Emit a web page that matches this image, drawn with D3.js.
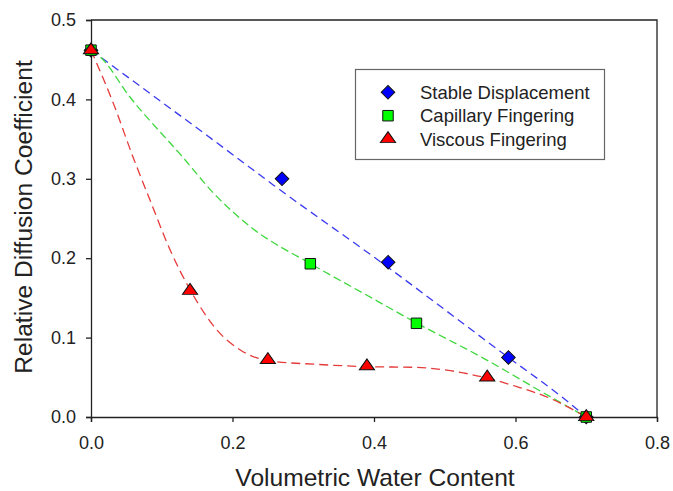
<!DOCTYPE html>
<html><head><meta charset="utf-8">
<script src="https://cdn.jsdelivr.net/npm/d3@7/dist/d3.min.js"></script>
<style>body{margin:0;background:#fff}svg{display:block}text{font-family:Arial,"Liberation Sans",sans-serif}</style>
</head><body><svg id="c" width="673" height="491"></svg>
<script>
// Data
const seriesNames = ["Stable Displacement", "Capillary Fingering", "Viscous Fingering"];
const stableX = [0, 0.27, 0.42, 0.59, 0.70];
const stableY = [0.462, 0.300, 0.195, 0.075, 0.0];
const capX = [0, 0.31, 0.46, 0.70];
const capY = [0.462, 0.193, 0.118, 0.0];
const viscX = [0, 0.14, 0.25, 0.39, 0.56, 0.70];
const viscY = [0.462, 0.159, 0.072, 0.064, 0.050, 0.0];
// fitted curves
const stableFitX = [0, 0.192, 0.258, 0.409, 0.59, 0.668, 0.70];
const stableFitY = [0.462, 0.336, 0.292, 0.1956, 0.075, 0.0235, 0.0];
const capFitX = [0, 0.0127, 0.055, 0.126, 0.178, 0.225, 0.311, 0.385, 0.461, 0.555, 0.649, 0.70];
const capFitY = [0.462, 0.4538, 0.403, 0.331, 0.2775, 0.2397, 0.1927, 0.1558, 0.118, 0.0739, 0.0256, 0.0];
const viscFitX = [0, 0.0316, 0.06, 0.0835, 0.112, 0.1405, 0.178, 0.211, 0.251, 0.319, 0.3905, 0.461, 0.508, 0.561, 0.602, 0.649, 0.70];
const viscFitY = [0.462, 0.395, 0.326, 0.273, 0.21, 0.1596, 0.1096, 0.0844, 0.0709, 0.0663, 0.0634, 0.0625, 0.0583, 0.0487, 0.0382, 0.0235, 0.0];
const xTicks = [0, 0.2, 0.4, 0.6, 0.8];
const yTicks = [0, 0.1, 0.2, 0.3, 0.4, 0.5];
const xTitle = "Volumetric Water Content";
const yTitle = "Relative Diffusion Coefficient";

const svg = d3.select("#c");
const L = 91, R = 657, T = 20, B = 417;
const x = d3.scaleLinear().domain([0, 0.8]).range([L, R]);
const y = d3.scaleLinear().domain([0, 0.5]).range([B, T]);

// frame
svg.append("path").attr("d", `M${L},${T}H${R}V${B}`).attr("fill","none").attr("stroke","#222").attr("stroke-width",1.3);

const xa = svg.append("g").attr("transform", `translate(0,${B})`)
  .call(d3.axisBottom(x).tickValues(xTicks).tickFormat(d3.format(".1f")).tickSize(5).tickPadding(14));
const ya = svg.append("g").attr("transform", `translate(${L},0)`)
  .call(d3.axisLeft(y).tickValues(yTicks).tickFormat(d3.format(".1f")).tickSize(5).tickPadding(10));
[xa, ya].forEach(a => {
  a.select(".domain").attr("stroke","#222").attr("stroke-width",1.3);
  a.selectAll(".tick line").attr("stroke","#222").attr("stroke-width",1.3);
  a.selectAll(".tick text").attr("font-size", 18).attr("fill","#222").attr("font-family","Arial, 'Liberation Sans', sans-serif");
});

svg.append("text").attr("x", 375).attr("y", 486).attr("text-anchor","middle")
  .attr("font-size", 24.6).attr("fill","#222").text(xTitle);
svg.append("text").attr("transform", "translate(32,217) rotate(-90)").attr("text-anchor","middle")
  .attr("font-size", 24.6).attr("fill","#222").text(yTitle);

const line = d3.line().x(d => x(d[0])).y(d => y(d[1])).curve(d3.curveMonotoneX);
const fits = [
  {xs: stableFitX, ys: stableFitY, c: "#3a3aee", dash: "8,5"},
  {xs: capFitX, ys: capFitY, c: "#3ed83e", dash: "8,4"},
  {xs: viscFitX, ys: viscFitY, c: "#e53a3a", dash: "9,5"}
];
fits.forEach(f => {
  svg.append("path").datum(f.xs.map((v,i)=>[v, f.ys[i]])).attr("d", line)
    .attr("fill","none").attr("stroke", f.c).attr("stroke-width",1.3).attr("stroke-dasharray", f.dash);
});

const shapes = [d3.symbolSquare, d3.symbolSquare, d3.symbolTriangle];
const sizes = [92, 110, 75];
const fills = ["#0000ff", "#00ff00", "#ff0000"];
const pts = [[stableX, stableY], [capX, capY], [viscX, viscY]];
function marker(g, i, cx, cy) {
  let tr = `translate(${cx},${cy})`;
  if (i === 0) tr += " rotate(45)";
  if (i === 2) tr += " scale(1.15,0.95)";
  g.append("path").attr("d", d3.symbol().type(shapes[i]).size(sizes[i])()).attr("transform", tr)
    .attr("fill", fills[i]).attr("stroke","#111").attr("stroke-width",1);
}
pts.forEach((p, i) => {
  const g = svg.append("g");
  p[0].forEach((v, j) => marker(g, i, x(v), y(p[1][j])));
});

// legend
const lg = svg.append("g");
lg.append("rect").attr("x",355.5).attr("y",69.5).attr("width",249).attr("height",90)
  .attr("fill","#fff").attr("stroke","#666").attr("stroke-width",1.2);
const rowsY = [92.3, 115.7, 139];
seriesNames.forEach((n, i) => {
  marker(lg, i, 388, rowsY[i]);
  lg.append("text").attr("x", 420).attr("y", rowsY[i]).attr("dy","0.36em")
    .attr("font-size", 18.5).attr("fill","#222").text(n);
});
</script></body></html>
